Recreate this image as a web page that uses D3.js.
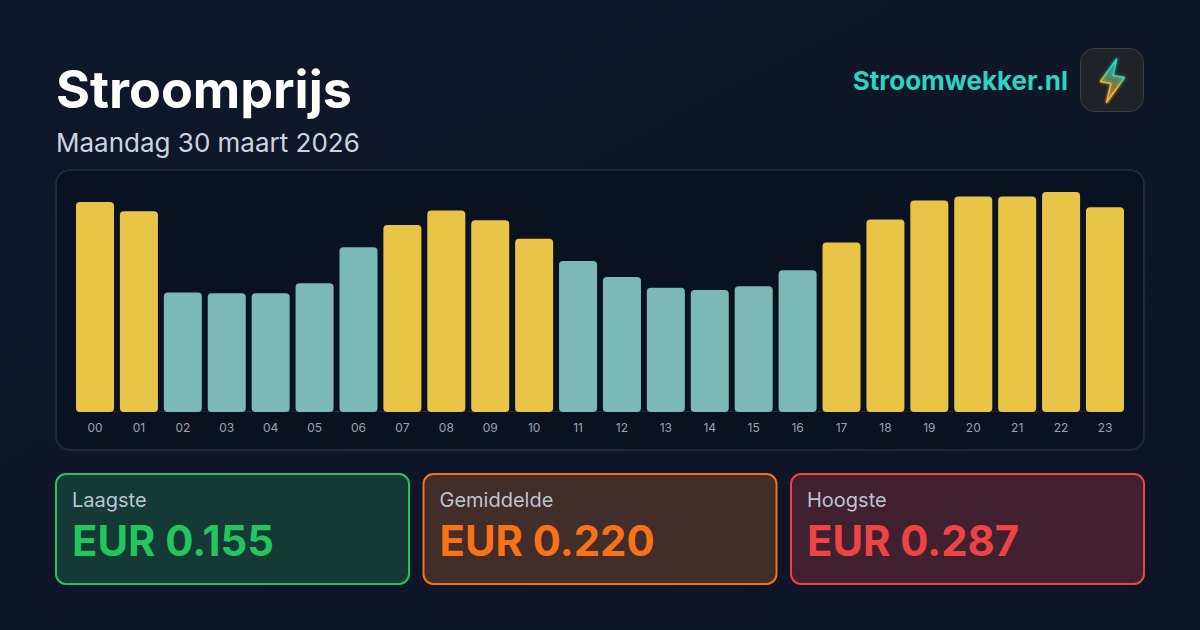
<!DOCTYPE html>
<html>
<head>
<meta charset="utf-8">
<script src="https://cdn.jsdelivr.net/npm/d3@7"></script>
<style>
	html, body { margin: 0; padding: 0; background: #0f172a; }
	svg { display: block; font-family: Inter, sans-serif; }
</style>
</head>
<body>
<svg id="chart"></svg>
<script>
const hours = ['00','01','02','03','04','05','06','07','08','09','10','11','12','13','14','15','16','17','18','19','20','21','22','23'];
const prices = [0.274,0.262,0.156,0.155,0.155,0.168,0.215,0.244,0.263,0.250,0.226,0.197,0.176,0.162,0.159,0.164,0.185,0.221,0.251,0.276,0.281,0.281,0.287,0.267];
const average = 0.220;
const cardLabels = ['Laagste','Gemiddelde','Hoogste'];
const cardValues = ['EUR 0.155','EUR 0.220','EUR 0.287'];
const cardColors = ['#22c55e','#f97316','#ef4444'];
const cardFills = ['#153a35','#412d2a','#412130'];

const width = 1200, height = 630;
const svg = d3.select('svg#chart').attr('width', width).attr('height', height).attr('viewBox', `0 0 ${width} ${height}`);

const defs = svg.append('defs');
const bg = defs.append('linearGradient').attr('id', 'bg').attr('x1', 0).attr('y1', 0).attr('x2', 1).attr('y2', 1);
bg.append('stop').attr('offset', 0).attr('stop-color', '#0f172a');
bg.append('stop').attr('offset', 1).attr('stop-color', '#0d1526');
const bolt = defs.append('linearGradient').attr('id', 'bolt').attr('x1', 0.6).attr('y1', 0).attr('x2', 0.4).attr('y2', 1);
bolt.append('stop').attr('offset', 0.3).attr('stop-color', '#2dd4bf');
bolt.append('stop').attr('offset', 0.65).attr('stop-color', '#f5b041');
const boltFill = defs.append('linearGradient').attr('id', 'boltFill').attr('x1', 0.6).attr('y1', 0).attr('x2', 0.4).attr('y2', 1);
boltFill.append('stop').attr('offset', 0.25).attr('stop-color', '#2dd4bf').attr('stop-opacity', 0.4);
boltFill.append('stop').attr('offset', 0.7).attr('stop-color', '#f5b041').attr('stop-opacity', 0.3);
const glow = defs.append('filter').attr('id', 'glow').attr('x', '-50%').attr('y', '-50%').attr('width', '200%').attr('height', '200%');
glow.append('feGaussianBlur').attr('stdDeviation', 1.6).attr('result', 'b');
const merge = glow.append('feMerge');
merge.append('feMergeNode').attr('in', 'b');
merge.append('feMergeNode').attr('in', 'SourceGraphic');

svg.append('rect').attr('width', width).attr('height', height).attr('fill', 'url(#bg)');

// header
svg.append('text').attr('x', 56).attr('y', 108).attr('font-size', 52).attr('font-weight', 700).attr('fill', '#ffffff').text('Stroomprijs');
svg.append('text').attr('x', 56).attr('y', 152).attr('font-size', 26).attr('fill', '#cbd5e1').text('Maandag 30 maart 2026');
svg.append('text').attr('x', 1068).attr('y', 90).attr('text-anchor', 'end').attr('font-size', 26).attr('font-weight', 700).attr('fill', '#2dd4bf').text('Stroomwekker.nl');

// logo
const logo = svg.append('g').attr('transform', 'translate(1080,48)');
logo.append('rect').attr('x', 0.5).attr('y', 0.5).attr('width', 63).attr('height', 63).attr('rx', 14).attr('fill', '#1f2327').attr('stroke', '#3a3f45');
logo.append('path').attr('d', 'M36.7 11 L20.5 33.5 L31 35.5 L26.5 54.5 L44.5 29.5 L33 27.5 Z')
	.attr('fill', 'url(#boltFill)').attr('stroke', 'url(#bolt)').attr('stroke-width', 1.4).attr('stroke-linejoin', 'round').attr('filter', 'url(#glow)');

// chart panel
svg.append('rect').attr('x', 56).attr('y', 170).attr('width', 1088).attr('height', 280).attr('rx', 14)
	.attr('fill', '#0a1120').attr('stroke', '#1e293b').attr('stroke-width', 2);

const x = d3.scaleBand(hours, [76, 1124]).paddingInner(0.134);
const y = d3.scaleLinear([0, 0.287], [412, 192]);

svg.append('line').attr('x1', 76).attr('x2', 1124).attr('y1', 411.5).attr('y2', 411.5).attr('stroke', '#1e293b');

svg.append('g').selectAll('rect').data(prices).join('rect')
	.attr('x', (d, i) => x(hours[i]))
	.attr('y', d => y(d))
	.attr('width', x.bandwidth())
	.attr('height', d => y(0) - y(d))
	.attr('rx', 4)
	.attr('fill', d => d >= average ? '#e8c547' : '#7bb8b8');

const axis = svg.append('g').attr('transform', 'translate(0,412)')
	.call(d3.axisBottom(x).tickSize(0).tickPadding(11));
axis.select('.domain').remove();
axis.selectAll('text').attr('font-family', 'Inter, sans-serif').attr('font-size', 12).attr('fill', '#9ca3af');

// stat cards
const cardW = 353, cardStep = 367.5;
const cards = svg.append('g').selectAll('g').data(cardLabels).join('g')
	.attr('transform', (d, i) => `translate(${56 + i * cardStep},474)`);
cards.append('rect').attr('width', cardW).attr('height', 110).attr('rx', 10)
	.attr('fill', (d, i) => cardFills[i]).attr('stroke', (d, i) => cardColors[i]).attr('stroke-width', 2);
cards.append('text').attr('x', 16).attr('y', 33).attr('font-size', 20).attr('fill', '#cbd5e1').attr('fill-opacity', 0.92).text(d => d);
cards.append('text').attr('x', 16).attr('y', 82).attr('font-size', 41.8).attr('font-weight', 700)
	.attr('fill', (d, i) => cardColors[i]).text((d, i) => cardValues[i]);
</script>
</body>
</html>
